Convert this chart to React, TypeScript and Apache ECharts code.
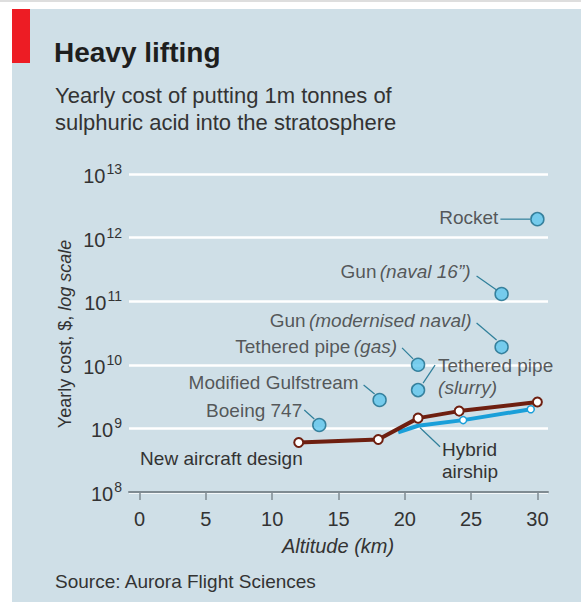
import React, { useEffect, useRef } from "react";
import * as echarts from "echarts";

const xTicks = [0, 5, 10, 15, 20, 25, 30];

const aircraftAlt = [12, 18, 21, 24.1, 30];
const aircraftCost = [6.0e8, 6.7e8, 1.45e9, 1.87e9, 2.6e9];

const airshipAlt = [19.5, 21, 24.4, 29.5];
const airshipCost = [8.7e8, 1.1e9, 1.35e9, 2.0e9];

const methodNames = ["Rocket", "Gun", "Gun", "Tethered pipe", "Tethered pipe", "Modified Gulfstream", "Boeing 747"];
const methodNotes = ["", "(naval 16\u201D)", "(modernised naval)", "(gas)", "(slurry)", "", ""];
const methodAlt = [30, 27.3, 27.3, 21, 21, 18.1, 13.55];
const methodCost = [1.95e12, 1.3e11, 1.9e10, 1.0e10, 4.0e9, 2.8e9, 1.13e9];

// label placement relative to point (px): [dx, dy, align]
const labelPos: [number, number, string][] = [
  [-39, -2, "right"],
  [-31, -22, "right"],
  [-30, -27, "right"],
  [-21, -18, "right"],
  [20, -14, "left"],
  [-21, -17, "right"],
  [-17, -15, "right"],
];
// leader line offsets relative to point: [x1, y1, x2, y2]
const leaders: number[][] = [
  [-37, 0, -7, 0],
  [-25, -18, -5, -4],
  [-25, -24, -5, -7],
  [-16, -17, -5, -6],
  [5, -7, 17, -25],
  [-16, -15, -5, -6],
  [-15, -15, -5, -6],
];
const airshipLeader = [2, 2, 22, 21];

const FONT = "'Liberation Sans', Arial, sans-serif";
const TEXT = "#333333";
const LEADER = "#2f7f9a";

export default function App() {
  const ref = useRef<HTMLDivElement>(null);
  useEffect(() => {
    document.body.style.margin = "0";
    const chart = echarts.init(ref.current!, null, { renderer: "svg" });
    const rich = {
      n: { fontFamily: FONT, fontSize: 19, color: TEXT, lineHeight: 22 },
      i: { fontFamily: FONT, fontSize: 19, color: TEXT, fontStyle: "italic", lineHeight: 22 },
    };
    const scatterData = methodAlt.map((x, k) => {
      const [dx, dy, align] = labelPos[k];
      const name = methodNames[k];
      const note = methodNotes[k];
      let txt = `{n|${name}}`;
      if (note) {
        txt = k === 4 ? `{n|${name}}\n{i|${note}}` : `{n|${name}} {i|${note}}`;
      }
      return {
        value: [x, methodCost[k]],
        label: {
          show: true,
          position: "inside",
          offset: [dx, dy],
          align,
          verticalAlign: "middle",
          formatter: txt,
          rich,
        },
      };
    });
    const option: any = {
      animation: false,
      backgroundColor: "transparent",
      grid: { left: 129, right: 33, top: 174, bottom: 110, containLabel: false },
      xAxis: {
        type: "value",
        min: -0.8,
        max: 30.8,
        axisLine: { show: true, lineStyle: { color: "#7f8b92", width: 2 } },
        axisTick: { show: true, customValues: xTicks, length: 8, lineStyle: { color: "#7f8b92", width: 1.5 } },
        axisLabel: { customValues: xTicks, margin: 17, fontFamily: FONT, fontSize: 20, color: TEXT },
        splitLine: { show: false },
      },
      yAxis: {
        type: "log",
        logBase: 10,
        min: 1e8,
        max: 1e13,
        axisLine: { show: false },
        axisTick: { show: false },
        splitLine: { show: true, lineStyle: { color: "#ffffff", width: 2.5 } },
        axisLabel: {
          margin: 7,
          formatter: (v: number) => `{b|10}{s|${Math.round(Math.log10(v))}}`,
          rich: {
            b: { fontFamily: FONT, fontSize: 20, color: TEXT, lineHeight: 24, verticalAlign: "bottom" },
            s: { fontFamily: FONT, fontSize: 14, color: TEXT, lineHeight: 24, verticalAlign: "top", padding: [0, 0, 0, 1] },
          },
        },
      },
      series: [
        {
          type: "line",
          data: airshipAlt.map((x, k) => ({
            value: [x, airshipCost[k]],
            symbol: k === 0 ? "none" : "circle",
            symbolSize: k === 1 ? 0.1 : 7,
            label:
              k === 1
                ? {
                    show: true,
                    position: "inside",
                    offset: [24, 35],
                    align: "left",
                    verticalAlign: "middle",
                    formatter: "{n|Hybrid}\n{n|airship}",
                    rich,
                  }
                : { show: false },
          })),
          lineStyle: { color: "#1a9fd9", width: 4 },
          itemStyle: { color: "#ffffff", borderColor: "#1a9fd9", borderWidth: 1.5 },
          z: 2,
        },
        {
          type: "line",
          data: aircraftAlt.map((x, k) => ({
            value: [x, aircraftCost[k]],
            label:
              k === 0
                ? {
                    show: true,
                    position: "inside",
                    offset: [4, 16],
                    align: "right",
                    verticalAlign: "middle",
                    formatter: "{n|New aircraft design}",
                    rich,
                  }
                : { show: false },
          })),
          symbol: "circle",
          symbolSize: 9,
          lineStyle: { color: "#6e1f10", width: 4 },
          itemStyle: { color: "#ffffff", borderColor: "#6e1f10", borderWidth: 2 },
          z: 3,
        },
        {
          type: "scatter",
          data: scatterData,
          symbol: "circle",
          symbolSize: 13,
          itemStyle: { color: "#5ec6ee", borderColor: "#1c6b8a", borderWidth: 1.5 },
          z: 4,
        },
      ],
      graphic: [],
    };
    chart.setOption(option);

    const lineEls: any[] = [];
    methodAlt.forEach((x, k) => {
      const p = chart.convertToPixel({ xAxisIndex: 0, yAxisIndex: 0 }, [x, methodCost[k]]) as number[];
      const o = leaders[k];
      lineEls.push({
        type: "line",
        shape: { x1: p[0] + o[0], y1: p[1] + o[1], x2: p[0] + o[2], y2: p[1] + o[3] },
        style: { stroke: LEADER, lineWidth: 1.2 },
        z: 10,
      });
    });
    const pa = chart.convertToPixel({ xAxisIndex: 0, yAxisIndex: 0 }, [airshipAlt[1], airshipCost[1]]) as number[];
    lineEls.push({
      type: "line",
      shape: {
        x1: pa[0] + airshipLeader[0],
        y1: pa[1] + airshipLeader[1],
        x2: pa[0] + airshipLeader[2],
        y2: pa[1] + airshipLeader[3],
      },
      style: { stroke: LEADER, lineWidth: 1.2 },
      z: 10,
    });

    const graphic = [
      { type: "rect", shape: { x: 0, y: 0, width: 581, height: 2 }, style: { fill: "#dedede" }, z: -20, silent: true },
      { type: "rect", shape: { x: 12, y: 9, width: 569, height: 593 }, style: { fill: "#cfdfe7" }, z: -20, silent: true },
      { type: "rect", shape: { x: 12, y: 9, width: 18, height: 54 }, style: { fill: "#ed1c24" }, z: -10, silent: true },
      {
        type: "text",
        x: 54,
        y: 52,
        style: { text: "Heavy lifting", font: `bold 28px ${FONT}`, fill: "#1e1e1e", verticalAlign: "middle" },
      },
      {
        type: "text",
        x: 55,
        y: 95,
        style: { text: "Yearly cost of putting 1m tonnes of", font: `22px ${FONT}`, fill: TEXT, verticalAlign: "middle" },
      },
      {
        type: "text",
        x: 55,
        y: 122,
        style: { text: "sulphuric acid into the stratosphere", font: `22px ${FONT}`, fill: TEXT, verticalAlign: "middle" },
      },
      {
        type: "text",
        x: 65,
        y: 334,
        rotation: Math.PI / 2,
        style: {
          text: "{n|Yearly cost, $, }{i|log scale}",
          rich: {
            n: { fontFamily: FONT, fontSize: 18, fill: TEXT },
            i: { fontFamily: FONT, fontSize: 18, fontStyle: "italic", fill: TEXT },
          },
          align: "center",
          verticalAlign: "middle",
        },
      },
      {
        type: "text",
        x: 338,
        y: 546,
        style: { text: "Altitude (km)", font: `italic 20px ${FONT}`, fill: TEXT, align: "center", verticalAlign: "middle" },
      },
      {
        type: "text",
        x: 55,
        y: 581,
        style: { text: "Source: Aurora Flight Sciences", font: `19px ${FONT}`, fill: TEXT, verticalAlign: "middle" },
      },
      ...lineEls,
    ];
    chart.setOption({ graphic });
    return () => chart.dispose();
  }, []);
  return <div ref={ref} style={{ width: 581, height: 602, background: "#ffffff" }} />;
}
